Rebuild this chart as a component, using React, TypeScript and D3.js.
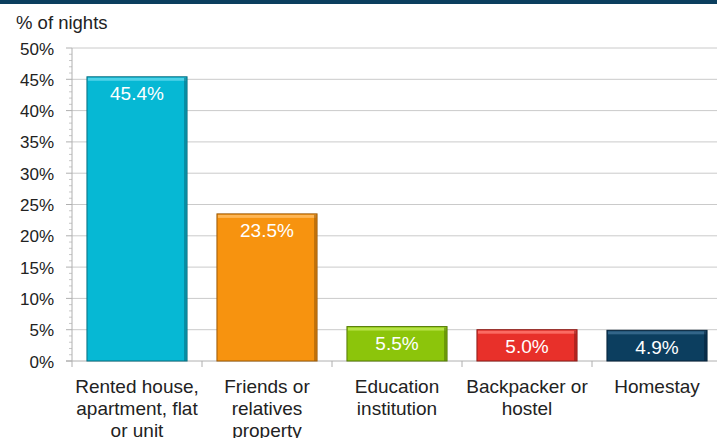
import React from "react";
import * as d3 from "d3";

const categories: string[][] = [
  ["Rented house,", "apartment, flat", "or unit"],
  ["Friends or", "relatives", "property"],
  ["Education", "institution"],
  ["Backpacker or", "hostel"],
  ["Homestay"],
];
const values = [45.4, 23.5, 5.5, 5.0, 4.9];
const colors = ["#06b8d4", "#f7930f", "#8cc50b", "#e8302a", "#0c3e5f"];
const dark = ["#0a6e80", "#9a5a08", "#557a06", "#8c1c18", "#06233a"];
const light = ["#5fd8ec", "#ffbf66", "#c0ea55", "#ff7a72", "#3d6f93"];
const yTicks = [0, 5, 10, 15, 20, 25, 30, 35, 40, 45, 50];
const minorTicks = d3.range(0, 51, 1);

const W = 717, H = 438;
const FONT = "'Liberation Sans', Arial, sans-serif";

export default function App() {
  const x = d3.scaleBand<number>().domain(d3.range(values.length)).range([72, 722]).paddingInner(0.23).paddingOuter(0.115);
  const y = d3.scaleLinear().domain([0, 50]).range([361, 48]);
  const step = x.step();
  return (
    <svg width={W} height={H} style={{ position: "absolute", left: 0, top: 0 }} fontFamily={FONT}>
      <rect x={0} y={0} width={W} height={4} fill="#0b3e5e" />
      <text x={16} y={29} fontSize={18.5} fill="#222">% of nights</text>
      {yTicks.map((t) => (
        <g key={t}>
          {t > 0 && <line x1={72} x2={W} y1={y(t)} y2={y(t)} stroke="#cacaca" strokeWidth={1} />}
          <line x1={66} x2={72} y1={y(t)} y2={y(t)} stroke="#b0b0b0" />
          <text x={54} y={y(t) + 6.5} textAnchor="end" fontSize={17} fill="#222">{t}%</text>
        </g>
      ))}
      {minorTicks.filter((t) => t % 5 !== 0).map((t) => (
        <line key={"m" + t} x1={69} x2={72} y1={y(t)} y2={y(t)} stroke="#c8c8c8" />
      ))}
      <line x1={72} x2={72} y1={y(50)} y2={y(0)} stroke="#b0b0b0" />
      <line x1={66} x2={W} y1={y(0)} y2={y(0)} stroke="#b0b0b0" />
      {d3.range(values.length + 1).map((i) => (
        <line key={"c" + i} x1={72 + i * step} x2={72 + i * step} y1={y(0)} y2={y(0) + 6} stroke="#b0b0b0" />
      ))}
      {values.map((v, i) => {
        const bx = x(i)!;
        const bw = x.bandwidth();
        const by = y(v);
        const bh = y(0) - by;
        return (
          <g key={i}>
            <rect x={bx} y={by} width={bw} height={bh} fill={colors[i]} stroke={dark[i]} strokeWidth={1} />
            <rect x={bx + 1} y={by + 1} width={bw - 2} height={3} fill={light[i]} opacity={0.8} />
            <rect x={bx + bw - 3} y={by + 1} width={2.5} height={bh - 1} fill={dark[i]} opacity={0.6} />
            <text x={bx + bw / 2} y={by + 23.5} textAnchor="middle" fontSize={19} fill="#fff">{v.toFixed(1)}%</text>
          </g>
        );
      })}
      {categories.map((lines, i) => (
        <text key={"l" + i} x={x(i)! + x.bandwidth() / 2} textAnchor="middle" fontSize={19} fill="#222">
          {lines.map((l, j) => (
            <tspan key={j} x={x(i)! + x.bandwidth() / 2} y={393 + j * 22}>{l}</tspan>
          ))}
        </text>
      ))}
    </svg>
  );
}
